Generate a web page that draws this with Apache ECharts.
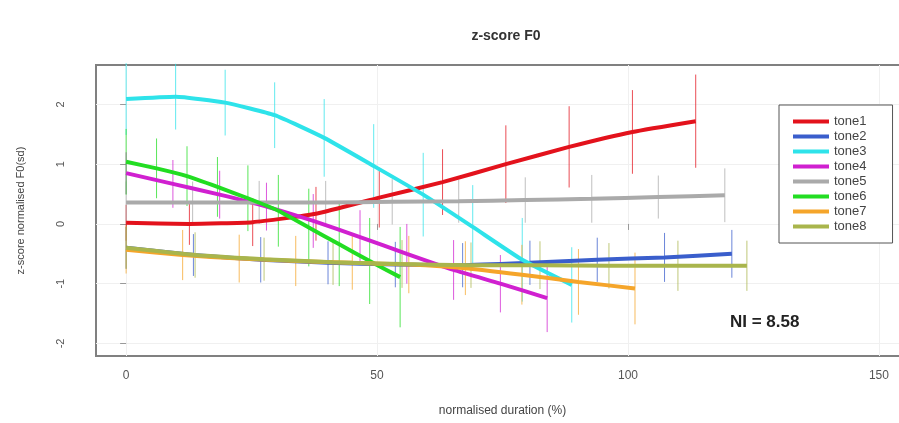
<!DOCTYPE html>
<html>
<head>
<meta charset="utf-8">
<script src="https://cdn.jsdelivr.net/npm/echarts@6/dist/echarts.min.js"></script>
<style>
  html, body { margin: 0; padding: 0; background: #fff; }
  #chart { width: 899px; height: 423px; }
</style>
</head>
<body>
<div id="chart"></div>
<script>
// tone names, colours and the duration (%) at which each tone ends
var tones = ['tone1', 'tone2', 'tone3', 'tone4', 'tone5', 'tone6', 'tone7', 'tone8'];
var colors = ['#e3121c', '#3a5ecc', '#2ee3ea', '#d020d0', '#aaaaaa', '#22dd22', '#f5a52a', '#a9b54c'];
var durations = [113.5, 120.7, 88.8, 83.9, 119.3, 54.6, 101.4, 123.7];

// mean z-score F0 at 10 equally spaced points of each tone
var tone1 = [0.02, 0.00, 0.03, 0.17, 0.44, 0.70, 1.00, 1.29, 1.54, 1.72];
var tone2 = [-0.40, -0.52, -0.60, -0.65, -0.68, -0.69, -0.65, -0.60, -0.56, -0.50];
var tone3 = [2.09, 2.13, 2.03, 1.82, 1.44, 0.97, 0.49, -0.05, -0.60, -1.02];
var tone4 = [0.85, 0.67, 0.49, 0.29, 0.05, -0.22, -0.50, -0.77, -1.00, -1.24];
var tone5 = [0.36, 0.36, 0.36, 0.36, 0.37, 0.38, 0.40, 0.42, 0.45, 0.48];
var tone6 = [1.04, 0.93, 0.80, 0.62, 0.43, 0.22, -0.06, -0.34, -0.62, -0.89];
var tone7 = [-0.43, -0.52, -0.58, -0.62, -0.65, -0.68, -0.74, -0.85, -0.97, -1.08];
var tone8 = [-0.40, -0.52, -0.59, -0.64, -0.67, -0.69, -0.69, -0.70, -0.70, -0.70];

// standard deviation (error bar half length)
var sd1 = [0.30, 0.35, 0.40, 0.45, 0.50, 0.55, 0.65, 0.68, 0.70, 0.78];
var sd2 = [0.35, 0.35, 0.38, 0.36, 0.38, 0.37, 0.37, 0.37, 0.41, 0.40];
var sd3 = [0.60, 0.55, 0.55, 0.55, 0.65, 0.70, 0.70, 0.70, 0.70, 0.63];
var sd4 = [0.35, 0.40, 0.40, 0.40, 0.45, 0.45, 0.50, 0.50, 0.48, 0.57];
var sd5 = [0.35, 0.35, 0.36, 0.36, 0.38, 0.36, 0.38, 0.40, 0.36, 0.45];
var sd6 = [0.55, 0.50, 0.50, 0.50, 0.55, 0.60, 0.65, 0.70, 0.72, 0.84];
var sd7 = [0.40, 0.42, 0.40, 0.42, 0.45, 0.48, 0.45, 0.50, 0.55, 0.60];
var sd8 = [0.35, 0.38, 0.36, 0.38, 0.40, 0.38, 0.40, 0.38, 0.42, 0.42];

var xTicks = [0, 50, 100, 150];
var yTicks = [-2, -1, 0, 1, 2];

var means = [tone1, tone2, tone3, tone4, tone5, tone6, tone7, tone8];
var sds = [sd1, sd2, sd3, sd4, sd5, sd6, sd7, sd8];

var series = [];
tones.forEach(function (name, k) {
    var step = durations[k] / (means[k].length - 1);
    var pts = means[k].map(function (v, i) { return [i * step, v]; });
    var bars = means[k].map(function (v, i) { return [i * step, v - sds[k][i], v + sds[k][i]]; });
    // error bars
    series.push({
        type: 'custom',
        name: name + '_err',
        data: bars,
        silent: true,
        z: 1,
        renderItem: function (params, api) {
            var p1 = api.coord([api.value(0), api.value(1)]);
            var p2 = api.coord([api.value(0), api.value(2)]);
            return {
                type: 'line',
                shape: { x1: p1[0], y1: p1[1], x2: p2[0], y2: p2[1] },
                style: { stroke: colors[k], lineWidth: 1, opacity: 0.75 }
            };
        }
    });
    // mean contour
    series.push({
        type: 'line',
        name: name,
        data: pts,
        smooth: 0.15,
        showSymbol: false,
        z: 2,
        lineStyle: { color: colors[k], width: 4 },
        itemStyle: { color: colors[k] }
    });
});

var myChart = echarts.init(document.getElementById('chart'));
myChart.setOption({
    animation: false,
    backgroundColor: '#fff',
    title: {
        text: 'z-score F0',
        left: 501,
        top: 24,
        textAlign: 'center',
        textStyle: { fontFamily: 'Liberation Sans', fontSize: 14, fontWeight: 'bold', color: '#333' }
    },
    legend: {
        data: tones,
        orient: 'vertical',
        left: 779,
        top: 105,
        padding: [10, 26, 10, 14],
        itemWidth: 36,
        itemHeight: 4,
        itemGap: 2,
        icon: 'rect',
        borderColor: '#555',
        borderWidth: 1,
        backgroundColor: '#fff',
        textStyle: { fontFamily: 'Liberation Sans', fontSize: 13, color: '#444', lineHeight: 12 }
    },
    graphic: [{
        type: 'text',
        left: 730,
        top: 314,
        style: { text: 'NI = 8.58', font: 'bold 17px "Liberation Sans"', fill: '#222' }
    }],
    grid: {
        left: 96, top: 65, width: 813, height: 291,
        outerBoundsMode: 'none',
        containLabel: false,
        show: true, borderColor: '#808080', borderWidth: 2
    },
    xAxis: {
        type: 'value',
        min: -6, max: 156,
        name: 'normalised duration (%)',
        nameLocation: 'middle',
        nameGap: 49,
        nameTextStyle: { fontFamily: 'Liberation Sans', fontSize: 12, color: '#444' },
        axisLine: { show: false },
        axisTick: { show: true, customValues: xTicks, length: 6, lineStyle: { color: '#999' } },
        axisLabel: { customValues: xTicks, margin: 14, fontFamily: 'Liberation Sans', fontSize: 12, color: '#555' },
        splitLine: { show: true, lineStyle: { color: '#f0f0f0', width: 1 } }
    },
    yAxis: {
        type: 'value',
        min: -2.21, max: 2.66,
        name: 'z-score normalised F0(sd)',
        nameLocation: 'middle',
        nameGap: 70,
        nameTextStyle: { fontFamily: 'Liberation Sans', fontSize: 11, color: '#444' },
        axisLine: { show: false },
        axisTick: { show: true, customValues: yTicks, length: 6, lineStyle: { color: '#999' } },
        axisLabel: { customValues: yTicks, rotate: 90, margin: 30, fontFamily: 'Liberation Sans', fontSize: 11, color: '#555' },
        splitLine: { show: true, lineStyle: { color: '#f0f0f0', width: 1 } }
    },
    series: series
});
</script>
</body>
</html>
